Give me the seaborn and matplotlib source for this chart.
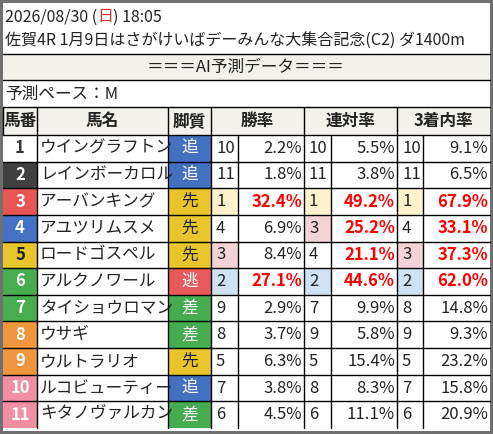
import matplotlib
matplotlib.use("Agg")
import matplotlib.pyplot as plt
import seaborn as sns
from matplotlib.patches import Rectangle

sns.set_style("white")
plt.rcParams['font.family'] = ['Noto Sans CJK JP', 'DejaVu Sans']

title_date = "2026/08/30 ("
title_day = "日"
title_time = ") 18:05"
race_title = "佐賀4R 1月9日はさがけいばデーみんな大集合記念(C2) ダ1400m"
band_title = "＝＝＝AI予測データ＝＝＝"
pace_text = "予測ペース：M"
headers = ["馬番", "馬名", "脚質", "勝率", "連対率", "3着内率"]

numbers = list(range(1, 12))
names = ["ウイングラフトン", "レインボーカロル", "アーバンキング", "アユツリムスメ", "ロードゴスペル",
         "アルクノワール", "タイショウロマン", "ウサギ", "ウルトラリオ", "ルコビューティー", "キタノヴァルカン"]
styles = ["追", "追", "先", "先", "先", "逃", "差", "差", "先", "追", "差"]
win_rank = [10, 11, 1, 4, 3, 2, 9, 8, 5, 7, 6]
win_pct = [2.2, 1.8, 32.4, 6.9, 8.4, 27.1, 2.9, 3.7, 6.3, 3.8, 4.5]
ren_rank = [10, 11, 1, 3, 4, 2, 7, 9, 5, 8, 6]
ren_pct = [5.5, 3.8, 49.2, 25.2, 21.1, 44.6, 9.9, 5.8, 15.4, 8.3, 11.1]
top3_rank = [10, 11, 1, 4, 3, 2, 8, 9, 5, 7, 6]
top3_pct = [9.1, 6.5, 67.9, 33.1, 37.3, 62.0, 14.8, 9.3, 23.2, 15.8, 20.9]
red_limit = [2, 4, 4]

num_bg = ["#ffffff", "#404040", "#e85555", "#4472c4", "#e8c52a", "#47ad4f",
          "#47ad4f", "#f0963c", "#f0963c", "#f08fa2", "#f08fa2"]
num_fg = ["#333333", "white", "white", "white", "#222222", "white",
          "white", "white", "white", "white", "white"]
style_bg = {"追": "#4470c0", "先": "#e8c52a", "逃": "#e85a5a", "差": "#45ad4f"}
style_fg = {"追": "white", "先": "#222222", "逃": "white", "差": "white"}
rank_bg = {1: "#fff2cc", 2: "#cfe2f3", 3: "#f4d3d6"}

fig = plt.figure(figsize=(4.93, 4.34), dpi=100)
ax = fig.add_axes([0, 0, 1, 1])
ax.set_xlim(0, 493)
ax.set_ylim(434, 0)
ax.axis('off')

def rect(x0, y0, x1, y1, fc, ec="none", lw=0):
    ax.add_patch(Rectangle((x0, y0), x1 - x0, y1 - y0, facecolor=fc, edgecolor=ec, linewidth=lw))

rect(0, 0, 493, 434, "#707070")
rect(3, 3, 490, 431, "white")
L, R = 3, 490
FS = 12

t = ax.text(5, 17, title_date, fontsize=11.5, va='center', ha='left', color='#222222')
fig.canvas.draw()
bb = t.get_window_extent().transformed(ax.transData.inverted())
t2 = ax.text(bb.x1, 17, title_day, fontsize=11.5, va='center', color='#e03030')
fig.canvas.draw()
bb2 = t2.get_window_extent().transformed(ax.transData.inverted())
ax.text(bb2.x1, 17, title_time, fontsize=11.5, va='center', color='#222222')
ax.text(5, 41, race_title, fontsize=11.5, va='center', color='#222222')

rect(L, 54, R, 80, "#f2f1ec")
ax.plot([L, R], [54, 54], color='black', lw=1)
ax.plot([L, R], [80, 80], color='black', lw=1)
ax.text(246, 67, band_title, fontsize=FS, ha='center', va='center', color='#222222')
ax.text(5, 94, pace_text, fontsize=FS, va='center', color='#222222')

cols = [3, 37, 168, 211, 238, 304, 331, 397, 423, 490]
hy0, hy1 = 107, 135
rh = (428 - hy1) / 11
rect(L, hy0, R, hy1, "#f2f1ec")
hspans = [(0, 1), (1, 2), (2, 3), (3, 5), (5, 7), (7, 9)]
for h, (a, b) in zip(headers, hspans):
    ax.text((cols[a] + cols[b]) / 2, (hy0 + hy1) / 2, h, fontsize=FS, ha='center', va='center',
            fontweight='bold', color='#222222')
    ax.plot([cols[a], cols[a]], [hy0, hy1], color='black', lw=1)
ax.plot([L, R], [hy0, hy0], color='black', lw=1)

series = [(win_rank, win_pct), (ren_rank, ren_pct), (top3_rank, top3_pct)]
for i in range(11):
    y0 = hy1 + i * rh
    y1 = y0 + rh
    yc = (y0 + y1) / 2
    rect(cols[0], y0, cols[1], y1, num_bg[i])
    ax.text((cols[0] + cols[1]) / 2, yc, str(numbers[i]), fontsize=FS, ha='center', va='center',
            fontweight='bold', color=num_fg[i])
    ax.text(cols[1] + 3, yc, names[i], fontsize=FS, ha='left', va='center', color='#222222')
    s = styles[i]
    rect(cols[2], y0, cols[3], y1, style_bg[s])
    ax.text((cols[2] + cols[3]) / 2, yc, s, fontsize=FS, ha='center', va='center', color=style_fg[s])
    for k, (rks, pcs) in enumerate(series):
        c0, c1, c2 = cols[3 + 2 * k], cols[4 + 2 * k], cols[5 + 2 * k]
        r = rks[i]
        if r in rank_bg:
            rect(c0, y0, c1, y1, rank_bg[r])
        ax.text(c0 + 5, yc, str(r), fontsize=FS, ha='left', va='center', color='#222222')
        red = r <= red_limit[k]
        ax.text(c2 - 2, yc, f"{pcs[i]:.1f}%", fontsize=FS, ha='right', va='center',
                color='#ff0000' if red else '#222222', fontweight='bold' if red else 'normal')
    ax.plot([L, R], [y0, y0], color='black', lw=1)
    for cx in cols[1:-1]:
        ax.plot([cx, cx], [y0, y1], color='black', lw=1)

fig.savefig("out.png", dpi=100)
